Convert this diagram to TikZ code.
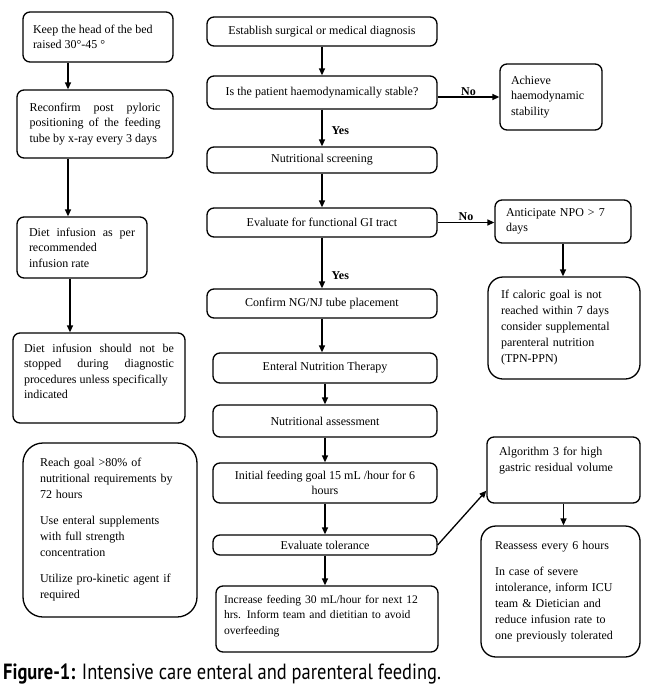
\documentclass[tikz,border=0pt]{standalone}
\usepackage{fontspec}
\setmainfont{Liberation Serif}
\newfontfamily\capfont{PT Sans}[FakeStretch=0.84]
\usetikzlibrary{arrows.meta}

\tikzset{
  flow/.style={draw, rounded corners=7pt, line width=1.3pt, inner sep=3pt, align=center,
    font=\fontsize{12}{15.5}\selectfont},
  note/.style={flow, align=left},
  arr/.style={-{Triangle[length=7pt, width=6pt]}, line width=1.3pt},
  lbl/.style={font=\fontsize{12}{13}\selectfont\bfseries, inner sep=1pt},
}

\begin{document}
\begin{tikzpicture}[x=1pt, y=-1pt]

    \useasboundingbox (0,0) rectangle (650,694);

    % left column: tube care

    \node[note, align=justify, text width=130pt, inner xsep=10pt, minimum height=50pt] (keep) at (98,37)
        {Keep the head of the bed\\raised 30°-45 °};
    \node[note, align=justify, text width=131pt, inner xsep=12.5pt, minimum height=68pt] (reconfirm) at (95,124)
        {Reconfirm post pyloric\linebreak positioning of the feeding\linebreak tube by x-ray every 3 days};
    \node[note, align=justify, text width=106pt, inner xsep=12pt, minimum height=61pt] (dietrate) at (82,247.5)
        {Diet infusion as per\linebreak recommended\\infusion rate};
    \node[note, align=justify, text width=150pt, inner xsep=11pt, minimum height=90pt, text depth=60pt] (nostop) at (99,378)
        {Diet infusion should not be\linebreak stopped during diagnostic\linebreak procedures unless specifically\\indicated};
    \node[note, rounded corners=20pt, text width=140pt, inner xsep=17pt, minimum height=174pt,
          font=\fontsize{12}{16}\selectfont] (goal) at (110,530)
        {Reach goal >80\% of\\nutritional requirements by\\72 hours\\[10pt]
         Use enteral supplements\\with full strength\\concentration\\[10pt]
         Utilize pro-kinetic agent if\\required};

    \draw[arr] ([xshift=-30pt]keep.south) -- ([xshift=-30pt]keep.south |- reconfirm.north);
    \draw[arr] ([xshift=-27pt]reconfirm.south) -- ([xshift=-27pt]reconfirm.south |- dietrate.north);
    \draw[arr] ([xshift=-12pt]dietrate.south) -- ([xshift=-12pt]dietrate.south |- nostop.north);

    % main column

    \node[flow, minimum width=230pt, minimum height=29pt] (diag) at (322,31.5) {Establish surgical or medical diagnosis};
    \node[flow, minimum width=230pt, minimum height=33pt] (stable) at (322,92.5) {Is the patient haemodynamically stable?};
    \node[flow, minimum width=230pt, minimum height=26pt] (screen) at (322,160) {Nutritional screening};
    \node[flow, minimum width=230pt, minimum height=29pt] (gitract) at (322,222.5) {Evaluate for functional GI tract};
    \node[flow, minimum width=230pt, minimum height=29pt] (confirm) at (322,303.5) {Confirm NG/NJ tube placement};
    \node[flow, minimum width=224pt, minimum height=30pt] (therapy) at (325,368) {Enteral Nutrition Therapy};
    \node[flow, minimum width=224pt, minimum height=32pt] (assess) at (325,421) {Nutritional assessment};
    \node[flow, minimum width=224pt, minimum height=40pt] (initial) at (325,483)
        {Initial feeding goal 15 mL /hour for 6\\hours};
    \node[flow, minimum width=224pt, minimum height=20pt, inner ysep=1pt] (tolerance) at (325,545) {Evaluate tolerance};
    \node[note, text width=206pt, inner xsep=8pt, minimum height=66pt, text depth=40pt,
          font=\fontsize{11.6}{15.5}\selectfont] (increase) at (327,619)
        {Increase feeding 30 mL/hour for next 12\\hrs. Inform team and dietitian to avoid\\overfeeding};

    \draw[arr] (diag.south) -- (diag.south |- stable.north);
    \draw[arr] (stable.south) -- node[lbl, right=8pt, pos=0.58] {Yes} (stable.south |- screen.north);
    \draw[arr] (screen.south) -- (screen.south |- gitract.north);
    \draw[arr] (gitract.south) -- node[lbl, right=8pt, pos=0.75] {Yes} (gitract.south |- confirm.north);
    \draw[arr] (confirm.south) -- (confirm.south |- therapy.north);
    \draw[arr] (therapy.south) -- (therapy.south |- assess.north);
    \draw[arr] (assess.south) -- (assess.south |- initial.north);
    \draw[arr] (initial.south) -- (initial.south |- tolerance.north);
    \draw[arr] (tolerance.south) -- (tolerance.south |- increase.north);

    % right column: side branches

    \node[note, text width=80pt, inner xsep=11pt, minimum height=66pt] (achieve) at (551,97)
        {Achieve\\haemodynamic\\stability};
    \node[note, text width=114pt, inner xsep=11pt, minimum height=43pt] (npo) at (563,221.5)
        {Anticipate NPO > 7\\days};
    \node[note, rounded corners=15pt, text width=126pt, inner xsep=13pt, minimum height=102pt,
          font=\fontsize{12}{16}\selectfont] (caloric) at (564,328)
        {If caloric goal is not\\reached within 7 days\\consider supplemental\\parenteral nutrition\\(TPN-PPN)};
    \node[note, text width=129pt, inner xsep=12pt, minimum height=66pt, text depth=38pt,
          font=\fontsize{12}{16}\selectfont] (residual) at (563.5,470)
        {Algorithm 3 for high\\gastric residual volume};
    \node[note, rounded corners=15pt, text width=131pt, inner xsep=14pt, minimum height=131pt,
          font=\fontsize{12}{16}\selectfont] (reassess) at (560.5,591.5)
        {Reassess every 6 hours\\[10pt]
         In case of severe\\intolerance, inform ICU\\team \& Dietician and\\reduce infusion rate to\\one previously tolerated};

    \draw[arr] (stable.east |- achieve.west) -- node[lbl, above] {No} (achieve.west);
    \draw[arr] (gitract.east) -- node[lbl, above] {No} (gitract.east -| npo.west);
    \draw[arr] (npo.south) -- (npo.south |- caloric.north);
    \draw[arr] (tolerance.east) -- ([yshift=13pt]residual.south west);
    \draw[arr] (residual.south) -- (residual.south |- reassess.north);

    % caption
    \node[anchor=base west, inner sep=0pt, font=\capfont\fontsize{22}{24}\selectfont] (caption) at (3,679)
        {\textbf{Figure-1:} Intensive care enteral and parenteral feeding.};
%
\end{tikzpicture}
\end{document}
